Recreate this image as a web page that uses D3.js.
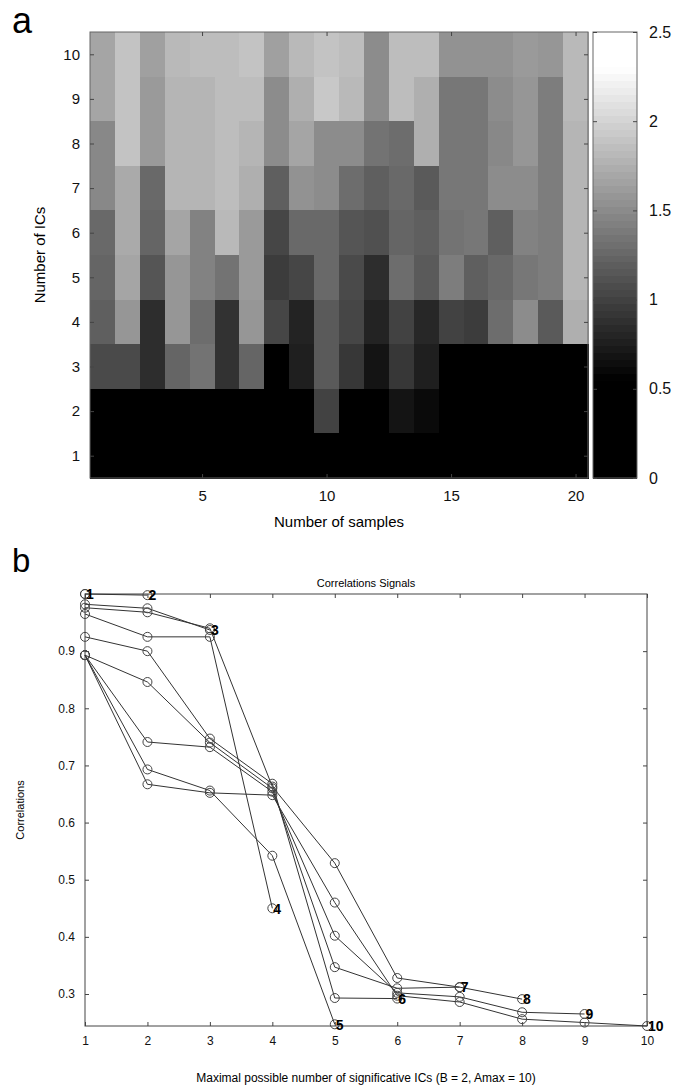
<!DOCTYPE html>
<html>
<head>
<meta charset="utf-8">
<script src="https://cdn.jsdelivr.net/npm/d3@7"></script>
<style>
  body { margin: 0; background: #fff; }
  svg { font-family: Arial, "Liberation Sans", sans-serif; }
</style>
</head>
<body>
<div id="chart"></div>
<script>
// panel a: error per (number of samples, number of ICs), rows listed from 10 ICs down to 1
var samples = d3.range(1, 21);
var ics = [10, 9, 8, 7, 6, 5, 4, 3, 2, 1];
var cells = [
  [1.68, 1.89, 1.65, 1.82, 1.85, 1.85, 1.89, 1.65, 1.82, 1.89, 1.85, 1.51, 1.85, 1.85, 1.55, 1.55, 1.55, 1.61, 1.58, 1.82],
  [1.68, 1.89, 1.61, 1.79, 1.79, 1.85, 1.85, 1.51, 1.75, 1.92, 1.82, 1.51, 1.85, 1.75, 1.37, 1.37, 1.51, 1.58, 1.41, 1.82],
  [1.48, 1.89, 1.61, 1.79, 1.79, 1.85, 1.79, 1.51, 1.68, 1.51, 1.51, 1.34, 1.30, 1.75, 1.37, 1.37, 1.48, 1.58, 1.41, 1.79],
  [1.48, 1.72, 1.27, 1.79, 1.79, 1.85, 1.75, 1.20, 1.55, 1.51, 1.30, 1.20, 1.27, 1.17, 1.37, 1.37, 1.51, 1.51, 1.41, 1.79],
  [1.27, 1.72, 1.24, 1.68, 1.44, 1.82, 1.61, 1.03, 1.27, 1.27, 1.13, 1.10, 1.24, 1.20, 1.34, 1.37, 1.20, 1.44, 1.41, 1.79],
  [1.24, 1.68, 1.13, 1.58, 1.44, 1.34, 1.61, 0.96, 1.03, 1.27, 1.06, 0.86, 1.30, 1.17, 1.41, 1.20, 1.27, 1.37, 1.41, 1.79],
  [1.20, 1.58, 0.86, 1.58, 1.30, 0.89, 1.58, 1.03, 0.79, 1.17, 1.03, 0.79, 1.00, 0.82, 1.00, 0.96, 1.30, 1.51, 1.17, 1.75],
  [1.06, 1.06, 0.86, 1.24, 1.34, 0.89, 1.24, 0, 0.76, 1.17, 0.93, 0.69, 0.93, 0.76, 0, 0, 0, 0, 0, 0],
  [0, 0, 0, 0, 0, 0, 0, 0, 0, 1.00, 0, 0, 0.69, 0.62, 0, 0, 0, 0, 0, 0],
  [0, 0, 0, 0, 0, 0, 0, 0, 0, 0, 0, 0, 0, 0, 0, 0, 0, 0, 0, 0]
];
var sampleTicks = [5, 10, 15, 20];
var barTicks = [0, 0.5, 1, 1.5, 2, 2.5];

// panel b: correlation curves, curve k has values for 1..k ICs
var curves = [
  [1.0],
  [1.0, 0.998],
  [0.982, 0.975, 0.937],
  [0.965, 0.925, 0.925, 0.450],
  [0.893, 0.693, 0.656, 0.542, 0.247],
  [0.925, 0.900, 0.747, 0.668, 0.293, 0.292],
  [0.893, 0.846, 0.740, 0.660, 0.347, 0.310, 0.312],
  [0.976, 0.968, 0.940, 0.663, 0.529, 0.328, 0.312, 0.291],
  [0.893, 0.741, 0.732, 0.654, 0.402, 0.302, 0.295, 0.268, 0.265],
  [0.893, 0.667, 0.652, 0.648, 0.460, 0.297, 0.286, 0.256, 0.250, 0.244]
];
var corrTicks = [0.3, 0.4, 0.5, 0.6, 0.7, 0.8, 0.9];

var svg = d3.select("#chart").append("svg")
    .attr("width", 674)
    .attr("height", 1085);

// ---------- panel a ----------
var ha = {left: 90, right: 588, top: 32, bottom: 478};
var gray = d3.scaleLinear().domain([0.55, 2.3]).range(["#000", "#fff"]).clamp(true);

var x = d3.scaleLinear().domain([0.5, 20.5]).range([ha.left, ha.right]);
var y = d3.scaleLinear().domain([0.5, 10.5]).range([ha.bottom, ha.top]);

svg.append("text").attr("x", 12).attr("y", 33)
    .attr("font-size", "36px").text("a");

var heat = svg.append("g").attr("shape-rendering", "crispEdges");
cells.forEach(function(row, i) {
  heat.selectAll(null).data(row).enter()
    .append("rect")
    .attr("x", (d, j) => x(samples[j] - 0.5))
    .attr("y", y(ics[i] + 0.5))
    .attr("width", (d, j) => x(samples[j] + 0.5) - x(samples[j] - 0.5) + 0.5)
    .attr("height", y(ics[i] - 0.5) - y(ics[i] + 0.5) + 0.5)
    .attr("fill", d => gray(d));
});

svg.append("rect")
    .attr("x", ha.left).attr("y", ha.top)
    .attr("width", ha.right - ha.left).attr("height", ha.bottom - ha.top)
    .attr("fill", "none").attr("stroke", "#666");

svg.append("g")
    .attr("transform", `translate(${ha.left},0)`)
    .call(d3.axisLeft(y).tickValues(d3.range(1, 11)).tickSizeInner(-4).tickSizeOuter(0).tickPadding(10))
    .call(g => g.select(".domain").remove())
    .call(g => g.selectAll("line").attr("stroke", "#444"))
    .call(g => g.selectAll("text").attr("font-size", "15px").attr("fill", "#111"));
svg.append("g")
    .attr("transform", `translate(${ha.right},0)`)
    .call(d3.axisRight(y).tickValues(d3.range(1, 11)).tickSizeInner(-4).tickSizeOuter(0).tickFormat(""))
    .call(g => g.select(".domain").remove())
    .call(g => g.selectAll("line").attr("stroke", "#444"));
svg.append("g")
    .attr("transform", `translate(0,${ha.bottom})`)
    .call(d3.axisBottom(x).tickValues(sampleTicks).tickSizeInner(-4).tickSizeOuter(0).tickPadding(12))
    .call(g => g.select(".domain").remove())
    .call(g => g.selectAll("line").attr("stroke", "#444"))
    .call(g => g.selectAll("text").attr("font-size", "15px").attr("fill", "#111"));
svg.append("g")
    .attr("transform", `translate(0,${ha.top})`)
    .call(d3.axisTop(x).tickValues(sampleTicks).tickSizeInner(-4).tickSizeOuter(0).tickFormat(""))
    .call(g => g.select(".domain").remove())
    .call(g => g.selectAll("line").attr("stroke", "#444"));

svg.append("text")
    .attr("x", (ha.left + ha.right) / 2).attr("y", 527)
    .attr("text-anchor", "middle").attr("font-size", "15px")
    .text("Number of samples");
svg.append("text")
    .attr("transform", "rotate(-90)")
    .attr("x", -(ha.top + ha.bottom) / 2).attr("y", 45)
    .attr("text-anchor", "middle").attr("font-size", "15px")
    .text("Number of ICs");

// colour bar
var cb = {left: 593, right: 637};
var cy = d3.scaleLinear().domain([0, 2.5]).range([ha.bottom, ha.top]);
var bands = d3.range(0, 2.5, 2.5 / 64);
svg.append("g").attr("shape-rendering", "crispEdges")
  .selectAll("rect").data(bands).enter()
  .append("rect")
    .attr("x", cb.left)
    .attr("y", d => cy(d + 2.5 / 64))
    .attr("width", cb.right - cb.left)
    .attr("height", d => cy(d) - cy(d + 2.5 / 64) + 0.5)
    .attr("fill", d => gray(d + 1.25 / 64));
svg.append("rect")
    .attr("x", cb.left).attr("y", ha.top)
    .attr("width", cb.right - cb.left).attr("height", ha.bottom - ha.top)
    .attr("fill", "none").attr("stroke", "#666");
svg.append("g")
    .attr("transform", `translate(${cb.right},0)`)
    .call(d3.axisRight(cy).tickValues(barTicks).tickFormat(d => String(d)).tickSizeInner(-4).tickSizeOuter(0).tickPadding(12))
    .call(g => g.select(".domain").remove())
    .call(g => g.selectAll("line").attr("stroke", "#444"))
    .call(g => g.selectAll("text").attr("font-size", "16px").attr("fill", "#111"));
svg.append("g")
    .attr("transform", `translate(${cb.left},0)`)
    .call(d3.axisLeft(cy).tickValues(barTicks).tickSizeInner(-4).tickSizeOuter(0).tickFormat(""))
    .call(g => g.select(".domain").remove())
    .call(g => g.selectAll("line").attr("stroke", "#444"));

// ---------- panel b ----------
var pb = {left: 85, right: 647, top: 594, bottom: 1026};
var bx = d3.scaleLinear().domain([1, 10]).range([pb.left, pb.right]);
var by = d3.scaleLinear().domain([0.244, 1.0]).range([pb.bottom, pb.top]);

svg.append("text").attr("x", 12).attr("y", 572)
    .attr("font-size", "33px").text("b");

svg.append("text")
    .attr("x", (pb.left + pb.right) / 2).attr("y", 587)
    .attr("text-anchor", "middle").attr("font-size", "11px")
    .text("Correlations Signals");

svg.append("rect")
    .attr("x", pb.left).attr("y", pb.top)
    .attr("width", pb.right - pb.left).attr("height", pb.bottom - pb.top)
    .attr("fill", "none").attr("stroke", "#444");

svg.append("g")
    .attr("transform", `translate(0,${pb.bottom})`)
    .call(d3.axisBottom(bx).ticks(10).tickSizeInner(-4).tickSizeOuter(0).tickPadding(10))
    .call(g => g.select(".domain").remove())
    .call(g => g.selectAll("line").attr("stroke", "#444"))
    .call(g => g.selectAll("text").attr("font-size", "12px").attr("fill", "#111"));
svg.append("g")
    .attr("transform", `translate(0,${pb.top})`)
    .call(d3.axisTop(bx).ticks(10).tickSizeInner(-4).tickSizeOuter(0).tickFormat(""))
    .call(g => g.select(".domain").remove())
    .call(g => g.selectAll("line").attr("stroke", "#444"));
svg.append("g")
    .attr("transform", `translate(${pb.left},0)`)
    .call(d3.axisLeft(by).tickValues(corrTicks).tickFormat(d3.format(".1f")).tickSizeInner(-4).tickSizeOuter(0).tickPadding(10))
    .call(g => g.select(".domain").remove())
    .call(g => g.selectAll("line").attr("stroke", "#444"))
    .call(g => g.selectAll("text").attr("font-size", "12px").attr("fill", "#111"));
svg.append("g")
    .attr("transform", `translate(${pb.right},0)`)
    .call(d3.axisRight(by).tickValues(corrTicks).tickSizeInner(-4).tickSizeOuter(0).tickFormat(""))
    .call(g => g.select(".domain").remove())
    .call(g => g.selectAll("line").attr("stroke", "#444"));

var line = d3.line().x((d, i) => bx(i + 1)).y(d => by(d));

svg.append("g").selectAll("path").data(curves).enter()
  .append("path")
    .attr("d", line)
    .attr("fill", "none")
    .attr("stroke", "#333")
    .attr("stroke-width", 1);

curves.forEach(function(c) {
  svg.append("g").selectAll("circle").data(c).enter()
    .append("circle")
      .attr("cx", (d, i) => bx(i + 1))
      .attr("cy", d => by(d))
      .attr("r", 4.5)
      .attr("fill", "none")
      .attr("stroke", "#444")
      .attr("stroke-width", 1);
});

svg.append("g").selectAll("text").data(curves).enter()
  .append("text")
    .attr("x", d => bx(d.length) + 1)
    .attr("y", d => by(d[d.length - 1]))
    .attr("dy", "0.38em")
    .attr("font-size", "14px")
    .attr("font-weight", "bold")
    .text(d => d.length);

svg.append("text")
    .attr("x", (pb.left + pb.right) / 2).attr("y", 1082)
    .attr("text-anchor", "middle").attr("font-size", "12px")
    .text("Maximal possible number of significative ICs (B = 2, Amax = 10)");
svg.append("text")
    .attr("transform", "rotate(-90)")
    .attr("x", -(pb.top + pb.bottom) / 2).attr("y", 24)
    .attr("text-anchor", "middle").attr("font-size", "11px")
    .text("Correlations");
</script>
</body>
</html>
